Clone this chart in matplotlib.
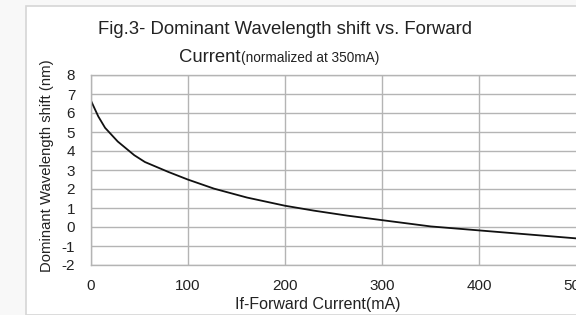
import matplotlib
matplotlib.use("Agg")
import matplotlib.pyplot as plt
from matplotlib.patches import Rectangle

# forward current (mA) and dominant wavelength shift (nm)
current = [0, 8, 15, 28, 45, 56, 80, 100, 127, 161, 200, 230, 264, 300, 350, 400, 500]
shift = [6.7, 5.82, 5.22, 4.5, 3.78, 3.42, 2.9, 2.5, 2.02, 1.55, 1.12, 0.86, 0.6, 0.36, 0.03, -0.18, -0.6]

x_ticks = [0, 100, 200, 300, 400, 500]
y_ticks = list(range(-2, 9))

plt.rcParams['font.family'] = ['Liberation Sans', 'DejaVu Sans']
plt.rcParams['axes.unicode_minus'] = False  # plain hyphen like the datasheet

fig = plt.figure(figsize=(5.76, 3.15), dpi=100)
fig.patch.set_facecolor('#f8f8f8')
# white panel the chart sits on
fig.patches.append(Rectangle((26 / 576, 0), 1, 1 - 6 / 315, transform=fig.transFigure,
                             facecolor='white', edgecolor='#d6d6d6', linewidth=1.2, zorder=-5))

ax = fig.add_axes([90.5 / 576, 50 / 315, 486 / 576, 190 / 315])
ax.set_facecolor('white')
ax.plot(current, shift, color='#111111', linewidth=1.3)

ax.set_xlim(0, 500)
ax.set_ylim(-2, 8)
ax.set_xticks(x_ticks)
ax.set_yticks(y_ticks)
ax.grid(True, color='#b4b4b4', linewidth=1.0)
for s in ax.spines.values():
    s.set_color('#b4b4b4')
    s.set_linewidth(1.0)
ax.tick_params(length=0, labelsize=11, colors='#222222')
ax.tick_params(axis='x', pad=10)
ax.tick_params(axis='y', pad=11)

fig.text(285 / 576, 1 - 29 / 315, 'Fig.3- Dominant Wavelength shift vs. Forward',
         ha='center', va='center', fontsize=13.3, color='#222222')
fig.text(241 / 576, 1 - 58 / 315, 'Current', ha='right', va='center',
         fontsize=13.3, color='#222222')
fig.text(241 / 576, 1 - 58 / 315, '(normalized at 350mA)', ha='left', va='center',
         fontsize=9.8, color='#222222')
fig.text(47 / 576, 1 - 166 / 315, 'Dominant Wavelength shift (nm)', rotation=90,
         ha='center', va='center', fontsize=10.7, color='#222222')
fig.text(318 / 576, 1 - 304 / 315, 'If-Forward Current(mA)', ha='center', va='center',
         fontsize=11.5, color='#222222')

fig.savefig('out.png', dpi=100, facecolor=fig.get_facecolor())
